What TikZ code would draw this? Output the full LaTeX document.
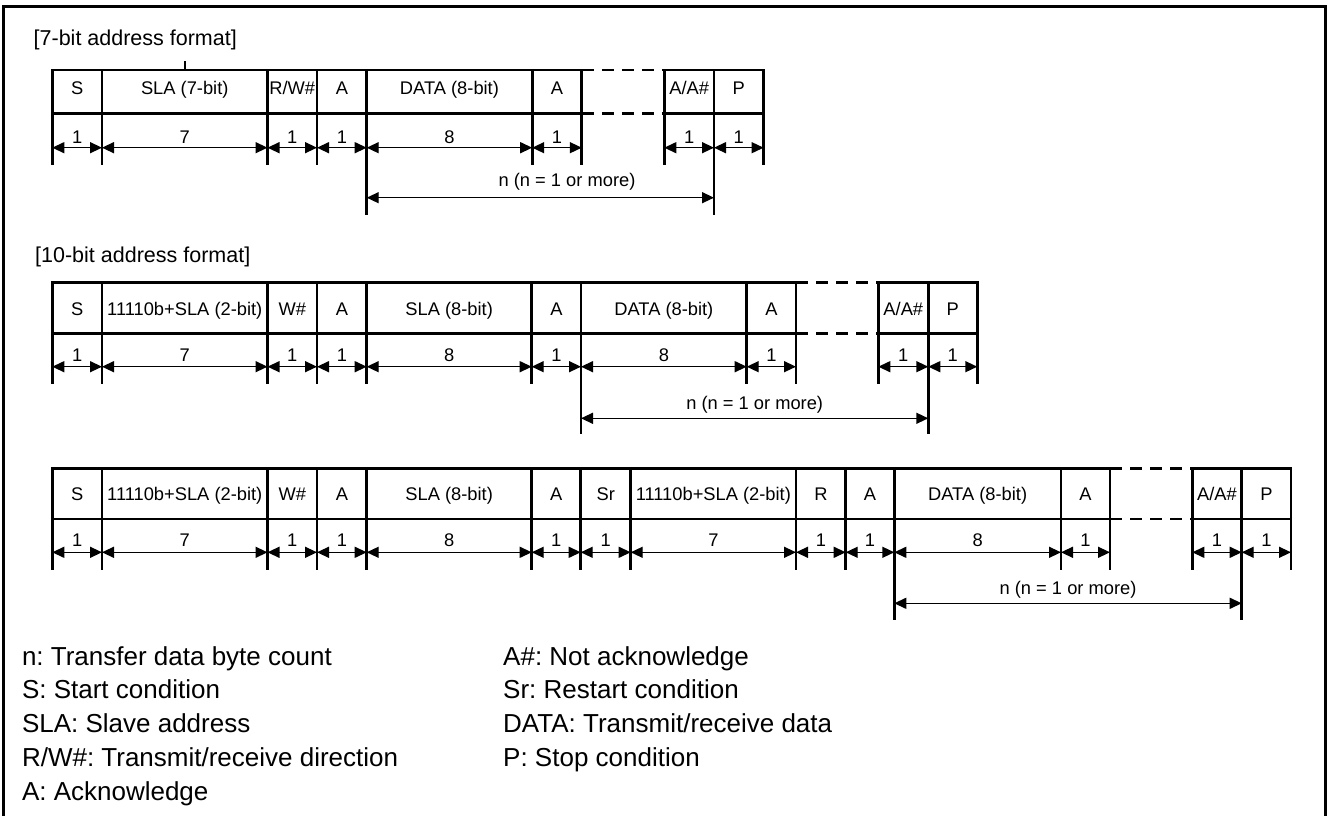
\documentclass[tikz,border=0pt]{standalone}
\usepackage{fontspec}
\setmainfont{Liberation Sans}
\usetikzlibrary{arrows.meta}
\frenchspacing
\begin{document}
\begin{tikzpicture}[x=1pt,y=-1pt,
  cellbox/.style={line width=2.8pt, line join=miter},
  tickline/.style={line width=2.8pt},
  gapline/.style={line width=2.8pt, dash pattern=on 12pt off 8pt},
  dimarrow/.style={line width=1.4pt, {Triangle[length=12pt,width=11pt]}-{Triangle[length=12pt,width=11pt]}},
  celltext/.style={font=\fontsize{18.3}{22}\selectfont, inner sep=0pt, anchor=base},
  titletext/.style={font=\fontsize{21.5}{26}\selectfont, inner sep=0pt, anchor=base west},
  legendtext/.style={font=\fontsize{26}{31}\selectfont, inner sep=0pt, anchor=base west},
  frameline/.style={line width=3pt}]
\useasboundingbox (0,0) rectangle (1328,816);
\clip (0,0) rectangle (1328,816);
% frame
\coordinate (fbl) at (3.5,822);
\coordinate (ftl) at (3.5,7);
\coordinate (ftr) at (1325.5,7);
\coordinate (fbr) at (1325.5,822);
\draw[frameline] (fbl) -- (ftl) -- (ftr) -- (fbr);

% ---------------- Row 1: 7-bit ----------------
\node[titletext] (title1) at (33.5,46) {[7-bit address format]};
\coordinate (tk1) at (185,61.5); \coordinate (tk2) at (185,70);
\draw[line width=1.2pt] (tk1) -- (tk2);
\def\yt{70}\def\ym{113.3}\def\yb{165}\def\ya{147.7}\def\ytx{95}\def\ynum{143.7}
\foreach \xa/\xb/\lab/\nb [count=\i] in {52.3/102/S/1, 102/267.5/SLA (7-bit)/7, 267.5/317/{R/W\#}/1, 317/366.7/A/1, 366.7/532.2/DATA (8-bit)/8, 532.2/581.8/A/1, 664.3/714/{A/A\#}/1, 714/763.6/P/1} {
  \draw[cellbox] (\xa,\yt) rectangle (\xb,\ym);
  \draw[tickline] (\xa,\ym) -- (\xa,\yb) (\xb,\ym) -- (\xb,\yb);
  \node[celltext] (ra\i) at ({(\xa+\xb)/2},\ytx) {\lab};
  \coordinate (ral\i) at (\xa,\ya); \coordinate (rar\i) at (\xb,\ya);
  \draw[dimarrow] (ral\i) -- (rar\i);
  \node[celltext] (ran\i) at ({(\xa+\xb)/2},\ynum) {\nb};
}
\coordinate (g1a) at (581.8,\yt); \coordinate (g1b) at (664.3,\yt);
\coordinate (g1c) at (581.8,\ym); \coordinate (g1d) at (664.3,\ym);
\draw[gapline] (g1a) -- (g1b) (g1c) -- (g1d);
\coordinate (n1l) at (366.7,197.7); \coordinate (n1r) at (714,197.7);
\coordinate (n1lb) at (366.7,215); \coordinate (n1rb) at (714,215);
\draw[tickline] (366.7,\yb) -- (n1lb) (714,\yb) -- (n1rb);
\draw[dimarrow] (n1l) -- (n1r);
\node[celltext] (n1t) at (567,186.8) {n (n = 1 or more)};

% ---------------- Row 2: 10-bit ----------------
\node[titletext] (title2) at (35,262.3) {[10-bit address format]};
\def\yt{282.3}\def\ym{333.3}\def\yb{384}\def\ya{366.7}\def\ytx{315}\def\ynum{361.7}
\foreach \xa/\xb/\lab/\nb [count=\i] in {52.3/102/S/1, 102/267.5/11110b+SLA (2-bit)/7, 267.5/317/W\#/1, 317/366.7/A/1, 366.7/531.7/SLA (8-bit)/8, 531.7/581/A/1, 581/746.7/DATA (8-bit)/8, 746.7/796/A/1, 878.3/928.3/{A/A\#}/1, 928.3/977.3/P/1} {
  \draw[cellbox] (\xa,\yt) rectangle (\xb,\ym);
  \draw[tickline] (\xa,\ym) -- (\xa,\yb) (\xb,\ym) -- (\xb,\yb);
  \node[celltext] (rb\i) at ({(\xa+\xb)/2},\ytx) {\lab};
  \coordinate (rbl\i) at (\xa,\ya); \coordinate (rbr\i) at (\xb,\ya);
  \draw[dimarrow] (rbl\i) -- (rbr\i);
  \node[celltext] (rbn\i) at ({(\xa+\xb)/2},\ynum) {\nb};
}
\coordinate (g2a) at (796,\yt); \coordinate (g2b) at (878.3,\yt);
\coordinate (g2c) at (796,\ym); \coordinate (g2d) at (878.3,\ym);
\draw[gapline] (g2a) -- (g2b) (g2c) -- (g2d);
\coordinate (n2l) at (581,418.3); \coordinate (n2r) at (928.3,418.3);
\coordinate (n2lb) at (581,434); \coordinate (n2rb) at (928.3,434);
\draw[tickline] (581,\yb) -- (n2lb) (928.3,\yb) -- (n2rb);
\draw[dimarrow] (n2l) -- (n2r);
\node[celltext] (n2t) at (754.7,409.5) {n (n = 1 or more)};

% ---------------- Row 3: 10-bit with restart ----------------
\def\yt{468.3}\def\ym{519}\def\yb{570}\def\ya{552.3}\def\ytx{500}\def\ynum{546.5}
\foreach \xa/\xb/\lab/\nb [count=\i] in {52.3/102/S/1, 102/267.5/11110b+SLA (2-bit)/7, 267.5/317/W\#/1, 317/366.7/A/1, 366.7/531.7/SLA (8-bit)/8, 531.7/580.7/A/1, 580.7/630.7/Sr/1, 630.7/796/11110b+SLA (2-bit)/7, 796/845.7/R/1, 845.7/894.3/A/1, 894.3/1061/DATA (8-bit)/8, 1061/1110/A/1, 1192.3/1241.7/{A/A\#}/1, 1241.7/1291/P/1} {
  \draw[cellbox] (\xa,\yt) rectangle (\xb,\ym);
  \draw[tickline] (\xa,\ym) -- (\xa,\yb) (\xb,\ym) -- (\xb,\yb);
  \node[celltext] (rc\i) at ({(\xa+\xb)/2},\ytx) {\lab};
  \coordinate (rcl\i) at (\xa,\ya); \coordinate (rcr\i) at (\xb,\ya);
  \draw[dimarrow] (rcl\i) -- (rcr\i);
  \node[celltext] (rcn\i) at ({(\xa+\xb)/2},\ynum) {\nb};
}
\coordinate (g3a) at (1110,\yt); \coordinate (g3b) at (1192.3,\yt);
\coordinate (g3c) at (1110,\ym); \coordinate (g3d) at (1192.3,\ym);
\draw[gapline] (g3a) -- (g3b) (g3c) -- (g3d);
\coordinate (n3l) at (894.3,603.3); \coordinate (n3r) at (1241.7,603.3);
\coordinate (n3lb) at (894.3,620); \coordinate (n3rb) at (1241.7,620);
\draw[tickline] (894.3,\yb) -- (n3lb) (1241.7,\yb) -- (n3rb);
\draw[dimarrow] (n3l) -- (n3r);
\node[celltext] (n3t) at (1068,594.5) {n (n = 1 or more)};

% ---------------- Legend ----------------
\node[legendtext] (lg1) at (21.8,665) {n: Transfer data byte count};
\node[legendtext] (lg2) at (21.8,698.8) {S: Start condition};
\node[legendtext] (lg3) at (21.8,732.6) {SLA: Slave address};
\node[legendtext] (lg4) at (21.8,766.4) {R/W\#: Transmit/receive direction};
\node[legendtext] (lg5) at (21.8,800.2) {A: Acknowledge};
\node[legendtext] (lg6) at (503,665) {A\#: Not acknowledge};
\node[legendtext] (lg7) at (503,698.8) {Sr: Restart condition};
\node[legendtext] (lg8) at (503,732.6) {DATA: Transmit/receive data};
\node[legendtext] (lg9) at (503,766.4) {P: Stop condition};
\end{tikzpicture}
\end{document}
